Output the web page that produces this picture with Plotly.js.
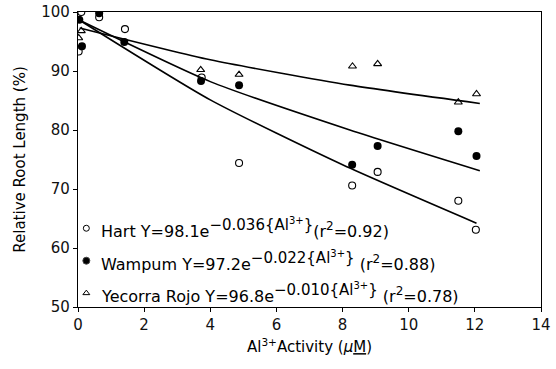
<!DOCTYPE html>
<html><head><meta charset="utf-8">
<script src="https://cdn.plot.ly/plotly-3.0.1.min.js"></script>
<style>body{margin:0;background:#fff}#chart{width:556px;height:369px}</style>
</head><body><div id="chart"></div>
<script>
// Hart (open circles)
var hartX = [0.02, 0.1, 0.64, 1.42, 3.74, 4.87, 8.29, 9.06, 11.5, 12.03];
var hartY = [93.3, 100, 99.1, 97.1, 88.9, 74.4, 70.6, 72.9, 68.0, 63.1];
// Wampum (filled circles)
var wampX = [0.04, 0.12, 0.64, 1.4, 3.72, 4.87, 8.29, 9.06, 11.5, 12.05];
var wampY = [98.7, 94.2, 99.8, 94.9, 88.3, 87.6, 74.1, 77.3, 79.8, 75.6];
// Yecorra Rojo (open triangles)
var yecX = [0.02, 0.1, 3.71, 4.87, 8.3, 9.06, 11.5, 12.05];
var yecY = [95.6, 96.8, 90.2, 89.4, 90.8, 91.2, 84.7, 86.1];
// Fitted curves as drawn
var hartFitX = [0.05, 4.0, 8.0, 12.05];
var hartFitY = [98.6, 85.1, 74.1, 64.2];
var wampFitX = [0.05, 4.0, 8.22, 12.15];
var wampFitY = [98.6, 88.2, 80.0, 73.1];
var yecFitX = [0.05, 4.0, 8.22, 12.15];
var yecFitY = [97.3, 91.9, 87.6, 84.5];
// Legend texts
var fitNames = ["Hart", "Wampum", "Yecorra Rojo"];
var fitA = ["98.1", "97.2", "96.8"];
var fitB = ["\u22120.036", "\u22120.022", "\u22120.010"];
var fitR2 = ["0.92", "0.88", "0.78"];

var traces = [];
[[hartFitX, hartFitY], [wampFitX, wampFitY], [yecFitX, yecFitY]].forEach(function (f) {
  traces.push({x: f[0], y: f[1], mode: 'lines', line: {color: '#000', width: 1.6, shape: 'spline', smoothing: 0.6}, hoverinfo: 'skip', showlegend: false});
});
traces.push({x: hartX, y: hartY, mode: 'markers', showlegend: false,
  marker: {symbol: 'circle-open', size: 7, color: '#000', line: {width: 1.1}}});
traces.push({x: wampX, y: wampY, mode: 'markers', showlegend: false,
  marker: {symbol: 'circle', size: 8, color: '#000'}});
traces.push({x: yecX, y: yecY, mode: 'markers', showlegend: false,
  marker: {symbol: 'triangle-up-open', size: 7, color: '#000', line: {width: 1.1}}});

// legend markers (in paper coords)
var legSym = ['circle-open', 'circle', 'triangle-up-open'];
var legSize = [6, 7, 6];
var legY = [0.267, 0.157, 0.047];
for (var k = 0; k < 3; k++) {
  traces.push({x: [0.018], y: [legY[k]], xaxis: 'x2', yaxis: 'y2', mode: 'markers', showlegend: false, hoverinfo: 'skip',
    marker: {symbol: legSym[k], size: legSize[k], color: '#000', line: {width: 1}}});
}

var F = 'DejaVu Sans, sans-serif';
var ann = [];
for (var k = 0; k < 3; k++) {
  ann.push({xref: 'paper', yref: 'paper', x: 0.045, y: legY[k], xanchor: 'left', yanchor: 'middle', showarrow: false,
    font: {family: F, size: 16, color: '#000'},
    text: fitNames[k] + ' Y=' + fitA[k] + 'e<sup><span style="font-size:15px">' + fitB[k] + '{Al<sup><span style="font-size:10px">3+</span></sup>}</span></sup>' +
      (k == 0 ? '' : ' ') + '(r<sup><span style="font-size:12px">2</span></sup>=' + fitR2[k] + ')'});
}

var layout = {
  width: 556, height: 369,
  margin: {l: 78, r: 15, t: 12, b: 62},
  paper_bgcolor: '#fff', plot_bgcolor: '#fff',
  font: {family: F, size: 15, color: '#000'},
  xaxis: {range: [0, 14], dtick: 2, tick0: 0, showgrid: false, zeroline: false, showline: true, mirror: true,
    linecolor: '#000', linewidth: 1.2, ticks: 'outside', ticklen: 4, tickcolor: '#000',
    tickfont: {family: F, size: 15, color: '#111'},
    title: {text: 'Al<sup>3+</sup>Activity (<i>\u03bc</i><u>M</u>)', font: {family: F, size: 15, color: '#000'}, standoff: 8}},
  yaxis: {range: [50, 100], dtick: 10, showgrid: false, zeroline: false, showline: true, mirror: true,
    linecolor: '#000', linewidth: 1.2, ticks: 'outside', ticklen: 4, tickcolor: '#000',
    tickfont: {family: F, size: 15, color: '#111'},
    title: {text: 'Relative Root Length (%)', font: {family: F, size: 15, color: '#000'}, standoff: 12}},
  xaxis2: {domain: [0, 1], range: [0, 1], visible: false, overlaying: 'x', anchor: 'y2'},
  yaxis2: {domain: [0, 1], range: [0, 1], visible: false, overlaying: 'y', anchor: 'x2'},
  annotations: ann,
  showlegend: false
};
Plotly.newPlot('chart', traces, layout, {staticPlot: true});
</script></body></html>
